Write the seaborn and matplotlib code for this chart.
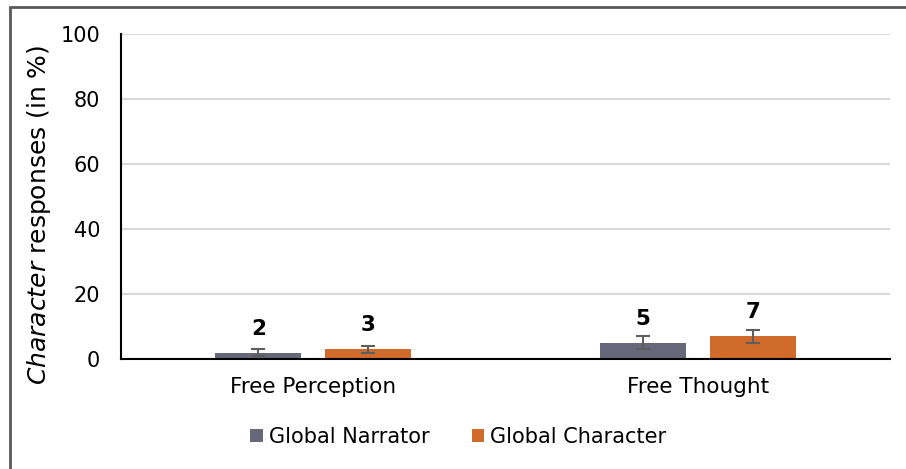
import matplotlib
matplotlib.use("Agg")
import matplotlib.pyplot as plt
import seaborn as sns
import pandas as pd
from matplotlib.patches import Rectangle

categories = ["Free Perception", "Free Thought"]
series = ["Global Narrator", "Global Character"]
narrator_vals = [2, 5]
character_vals = [3, 7]
narrator_err = [1.0, 2.0]
character_err = [1.0, 2.0]
yticks = [0, 20, 40, 60, 80, 100]

colors = ["#67677A", "#D06B2C"]

df = pd.DataFrame({
    "category": categories * 2,
    "series": [series[0]] * 2 + [series[1]] * 2,
    "value": narrator_vals + character_vals,
})
errs = {series[0]: narrator_err, series[1]: character_err}

sns.set_theme(style="white")
plt.rcParams["font.family"] = ["DejaVu Sans"]
plt.rcParams["mathtext.fontset"] = "dejavusans"
plt.rcParams["text.color"] = "black"
plt.rcParams["axes.labelcolor"] = "black"

fig = plt.figure(figsize=(9.06, 4.69), dpi=100)
ax = fig.add_axes([121/906, 1-359/469, (890-121)/906, (359-34)/469])

sns.barplot(data=df, x="category", y="value", hue="series", order=categories,
            hue_order=series, palette=colors, width=0.572, gap=0.22,
            errorbar=None, ax=ax, legend=True, saturation=1,
            linewidth=0, edgecolor="none")

for cont, s in zip(ax.containers, series):
    xs = [p.get_x() + p.get_width()/2 for p in cont]
    ys = [p.get_height() for p in cont]
    ax.errorbar(xs, ys, yerr=errs[s], fmt="none", ecolor="#5E5E5E",
                elinewidth=1.5, capsize=5, capthick=1.5, zorder=5)
    ax.bar_label(cont, labels=[f"{v:g}" for v in ys], padding=10,
                 fontsize=15.5, fontweight="bold", color="black")

ax.set_ylim(0, 100)
ax.set_yticks(yticks)
ax.set_xlim(-0.5, 1.5)
ax.yaxis.grid(True, color="#D9D9D9", linewidth=1.5)
ax.set_axisbelow(True)
for sp in ["top", "right"]:
    ax.spines[sp].set_visible(False)
for sp in ["left", "bottom"]:
    ax.spines[sp].set_color("black")
    ax.spines[sp].set_linewidth(1.5)
ax.tick_params(axis="both", length=0, colors="black")
ax.tick_params(axis="y", pad=15, labelsize=15)
ax.tick_params(axis="x", pad=13, labelsize=15.5)
ax.set_xlabel("")
ax.set_ylabel(r"$\mathit{Character}$ responses (in %)", fontsize=18, color="black")
ax.yaxis.set_label_coords(-0.088, 0.443)

leg = ax.legend(loc="center", bbox_to_anchor=(0.506, 0.068),
                bbox_transform=fig.transFigure, ncol=2, frameon=False,
                fontsize=15, handlelength=0.6, handleheight=0.6,
                handletextpad=0.3, columnspacing=2.0, labelcolor="black")

fig.patches.append(Rectangle((10/906, -0.1), 1.2, 1.1 - 7/469,
                             transform=fig.transFigure, fill=False,
                             edgecolor="#595959", linewidth=2, figure=fig))

fig.savefig("out.png", dpi=100)
